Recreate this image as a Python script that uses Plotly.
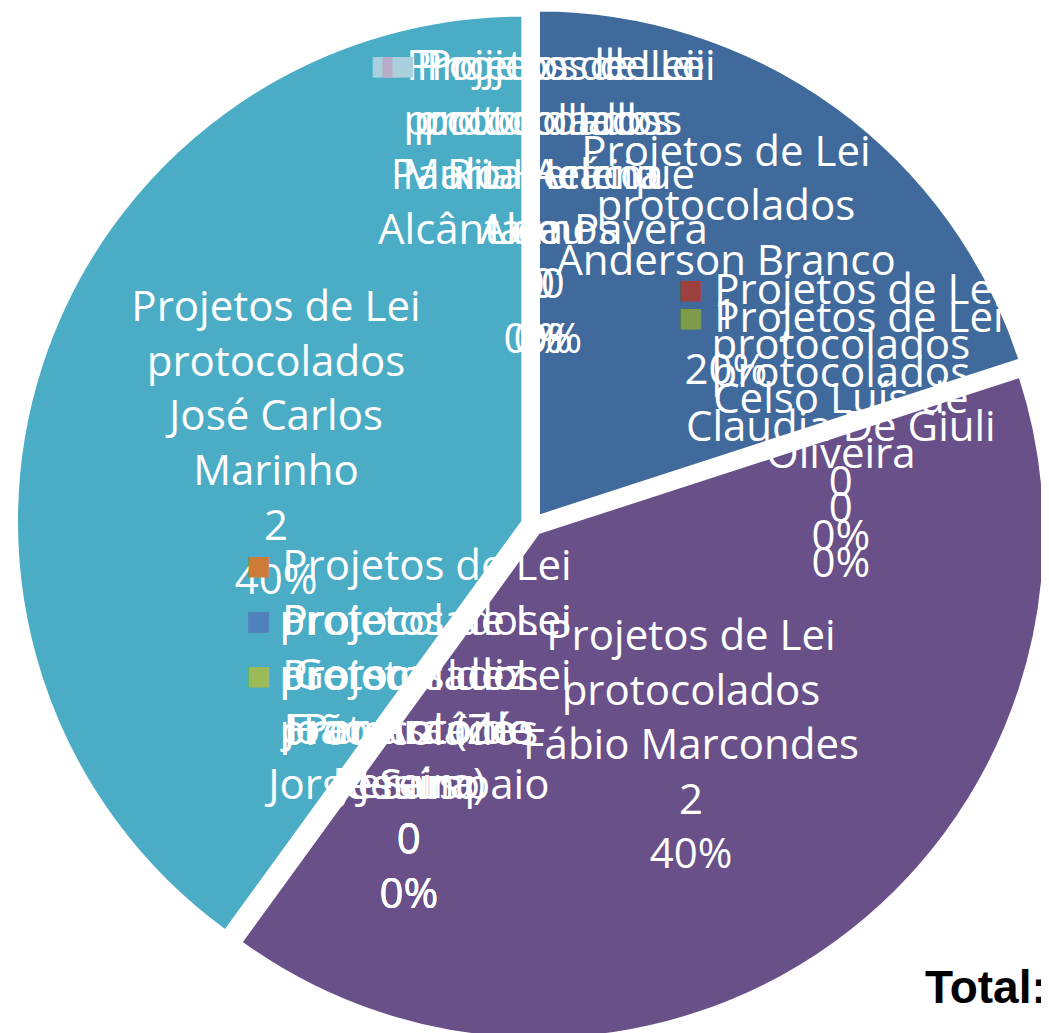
import math
import textwrap
import plotly.graph_objects as go

serie = "Projetos de Lei protocolados"
vereadores = [
    "Anderson Branco", "Celso Luís de Oliveira", "Claudia De Giuli",
    "Fábio Marcondes", "Gerson Luiz Pereira (Zé Pereira)", "João Antônio Jesuíno",
    "Francisco de Jesus", "Jorge Sampaio", "José Carlos Marinho",
    "Maria Helena Alceu", "Paulo Henrique Alcântara Pavera", "Rita Acácio Lemos",
]
projetos = [1, 0, 0, 2, 0, 0, 0, 0, 2, 0, 0, 0]
cores = [
    "#416A9C", "#9E413E", "#7F9A48", "#6A5088", "#CC7B38", "#8066A1",
    "#4F81BD", "#9BBB59", "#4BACC6", "#A9D0DC", "#B8ACC8", "#A9D0DC",
]

W, H = 1049, 1033
PULL = 0.02
FONTE = dict(family="Open Sans", size=42, color="white")

nomes_q = ["<br>".join(textwrap.wrap(n, 16)) for n in vereadores]
cabeca = "Projetos de Lei<br>protocolados<br>"
modelos = [cabeca + "%{text}<br>%{value}<br>%{percent}" if v else "" for v in projetos]

fig = go.Figure(go.Pie(
    labels=vereadores,
    values=projetos,
    name=serie,
    text=nomes_q,
    texttemplate=modelos,
    textposition="inside",
    insidetextorientation="horizontal",
    sort=False,
    direction="clockwise",
    rotation=0,
    pull=PULL,
    marker=dict(colors=cores, line=dict(color="white", width=3)),
    textfont=FONTE,
    hoverinfo="label+value+percent",
    showlegend=False,
))

# rótulos das fatias com valor zero: o Excel os empilha sobre a borda da fatia
total = sum(projetos)
raio = min(W, H) / 2 / (1 + PULL)
acum = 0
grupo_ang, k = None, 0
for nome, v, c in zip(nomes_q, projetos, cores):
    ang = (2 * math.pi * acum / total) % (2 * math.pi)
    acum += v
    if v:
        continue
    k = k + 1 if grupo_ang == ang else 0
    grupo_ang = ang
    s, co = math.sin(ang), math.cos(ang)
    if abs(co) > 0.5:
        # em cima / embaixo: preso perto do contorno, crescendo para o centro
        d = 0.97 * raio
        xa = "right" if s > 0.5 else ("left" if s < -0.5 else "center")
        ya = "top" if co > 0 else "bottom"
    else:
        d = 0.64 * raio
        xa, ya = "center", "middle"
    fig.add_annotation(
        text=f"<span style='color:{c}'>■</span> {cabeca}{nome}<br>{v}<br>{v / total:.0%}",
        x=0.5 + d * s / W, y=0.5 + d * co / H,
        xref="paper", yref="paper", xanchor=xa, yanchor=ya,
        xshift=k * 10 if ang == 0 else 0,
        showarrow=False, align="center", font=FONTE,
    )

fig.add_annotation(text="<b>Total:</b>", x=1.0, y=0.025, xref="paper", yref="paper",
                   xanchor="right", yanchor="bottom", xshift=-8, showarrow=False,
                   font=dict(family="Liberation Sans", size=46, color="black"))

fig.update_layout(
    width=W, height=H,
    margin=dict(l=0, r=0, t=0, b=0),
    paper_bgcolor="white",
    uniformtext=dict(minsize=42, mode="show"),
)

fig.write_html("out.html")
